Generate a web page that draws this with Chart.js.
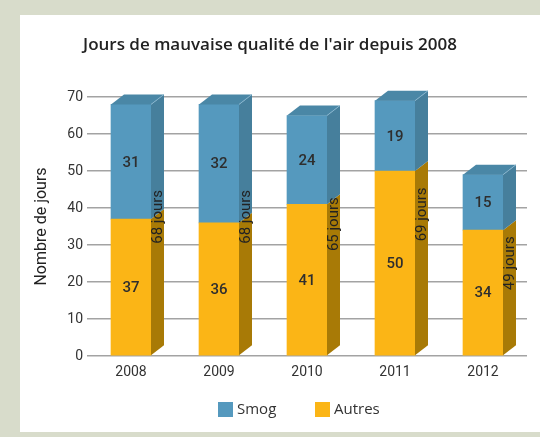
<!DOCTYPE html>
<html>
<head>
<meta charset="utf-8">
<script src="https://cdn.jsdelivr.net/npm/chart.js@4/dist/chart.umd.min.js"></script>
<style>
  html, body { margin: 0; padding: 0; background: #d8dccb; width: 540px; height: 437px; overflow: hidden; }
  #frame { position: absolute; left: 20px; top: 15px; width: 520px; height: 417px; background: #ffffff; }
  canvas { position: absolute; left: 0; top: 0; }
</style>
</head>
<body>
<div id="frame"><canvas id="c" width="520" height="417"></canvas></div>
<script>
const titleText = "Jours de mauvaise qualité de l'air depuis 2008";
const yAxisTitle = "Nombre de jours";
const categories = ["2008", "2009", "2010", "2011", "2012"];
const autres = [37, 36, 41, 50, 34];
const smog = [31, 32, 24, 19, 15];
const yTicks = [0, 10, 20, 30, 40, 50, 60, 70];
const totalSuffix = " jours";

const COLORS = {
  smog: { front: '#5599be', side: '#467f9c', top: '#4a87a6' },
  autres: { front: '#fbb516', side: '#a87a06', top: '#c99110' }
};
const DX = 13, DY = 10;

const threeD = {
  id: 'threeD',
  afterDatasetsDraw(chart) {
    const ctx = chart.ctx;
    const metas = chart.data.datasets.map((d, i) => chart.getDatasetMeta(i));
    const colorSets = [COLORS.autres, COLORS.smog];
    ctx.save();
    metas.forEach((meta, di) => {
      meta.data.forEach((bar) => {
        const r = bar.x + bar.width / 2;
        const top = Math.min(bar.y, bar.base), bot = Math.max(bar.y, bar.base);
        ctx.fillStyle = colorSets[di].side;
        ctx.beginPath();
        ctx.moveTo(r, top);
        ctx.lineTo(r + DX, top - DY);
        ctx.lineTo(r + DX, bot - DY);
        ctx.lineTo(r, bot);
        ctx.closePath();
        ctx.fill();
      });
    });
    // top faces on the last stacked dataset
    const last = metas[metas.length - 1];
    last.data.forEach((bar) => {
      const l = bar.x - bar.width / 2, r = bar.x + bar.width / 2;
      const top = Math.min(bar.y, bar.base);
      ctx.fillStyle = colorSets[metas.length - 1].top;
      ctx.beginPath();
      ctx.moveTo(l, top);
      ctx.lineTo(l + DX, top - DY);
      ctx.lineTo(r + DX, top - DY);
      ctx.lineTo(r, top);
      ctx.closePath();
      ctx.fill();
      ctx.strokeStyle = 'rgba(140,185,210,0.8)';
      ctx.lineWidth = 1;
      ctx.beginPath();
      ctx.moveTo(r, top);
      ctx.lineTo(r + DX, top - DY);
      ctx.stroke();
    });
    // value labels inside segments
    ctx.fillStyle = '#2e2e2e';
    ctx.font = '500 15px Roboto';
    ctx.textAlign = 'center';
    ctx.textBaseline = 'middle';
    metas.forEach((meta, di) => {
      meta.data.forEach((bar, i) => {
        const v = chart.data.datasets[di].data[i];
        ctx.fillText(String(v), bar.x, (bar.y + bar.base) / 2 + 1);
      });
    });
    // totals on the side faces
    const yScale = chart.scales.y;
    ctx.font = '15px Roboto';
    ctx.fillStyle = '#222';
    metas[0].data.forEach((bar, i) => {
      const total = autres[i] + smog[i];
      const xc = bar.x + bar.width / 2 + DX / 2 + 1;
      const yEnd = yScale.getPixelForValue(total * 0.66);
      ctx.save();
      ctx.translate(xc, yEnd);
      ctx.rotate(-Math.PI / 2);
      ctx.textAlign = 'right';
      ctx.textBaseline = 'middle';
      ctx.fillText(total + totalSuffix, 0, 0);
      ctx.restore();
    });
    ctx.restore();
  },
  afterDraw(chart) {
    const ctx = chart.ctx;
    ctx.save();
    // title
    ctx.fillStyle = '#222';
    ctx.font = '600 17px "Open Sans"';
    ctx.textAlign = 'center';
    ctx.textBaseline = 'middle';
    ctx.fillText(titleText, 250, 30);
    // legend
    ctx.font = '15px "Open Sans"';
    ctx.textAlign = 'left';
    const items = [
      { label: chart.data.datasets[1].label, color: chart.data.datasets[1].backgroundColor, x: 198 },
      { label: chart.data.datasets[0].label, color: chart.data.datasets[0].backgroundColor, x: 295 }
    ];
    items.forEach(it => {
      ctx.fillStyle = it.color;
      ctx.fillRect(it.x, 387, 15, 15);
      ctx.fillStyle = '#333';
      ctx.fillText(it.label, it.x + 19, 395);
    });
    ctx.restore();
  }
};

new Chart(document.getElementById('c'), {
  type: 'bar',
  data: {
    labels: categories,
    datasets: [
      { label: 'Autres', data: autres, backgroundColor: COLORS.autres.front, barThickness: 40 },
      { label: 'Smog', data: smog, backgroundColor: COLORS.smog.front, barThickness: 40 }
    ]
  },
  options: {
    responsive: false,
    animation: false,
    devicePixelRatio: 1,
    layout: { padding: { left: 0, top: 82, right: 13, bottom: 46 } },
    plugins: {
      legend: { display: false },
      title: { display: false },
      tooltip: { enabled: false }
    },
    scales: {
      x: {
        stacked: true,
        grid: { display: false, drawTicks: false },
        border: { display: false },
        ticks: { color: '#333', font: { family: 'Roboto', size: 14 }, padding: 8 },
        afterFit(scale) { scale.height = 30; }
      },
      y: {
        stacked: true,
        min: 0, max: 70,
        afterBuildTicks(scale) { scale.ticks = yTicks.map(v => ({ value: v })); },
        grid: { color: '#a3a3a3', lineWidth: 1.5, drawTicks: false },
        border: { display: false },
        ticks: { color: '#333', font: { family: 'Roboto', size: 14 }, padding: 4 },
        title: { display: true, text: yAxisTitle, color: '#222', font: { family: 'Roboto', size: 16 }, padding: { top: 12, bottom: 0 } },
        afterFit(scale) { scale.width = 67; }
      }
    }
  },
  plugins: [threeD]
});
</script>
</body>
</html>
